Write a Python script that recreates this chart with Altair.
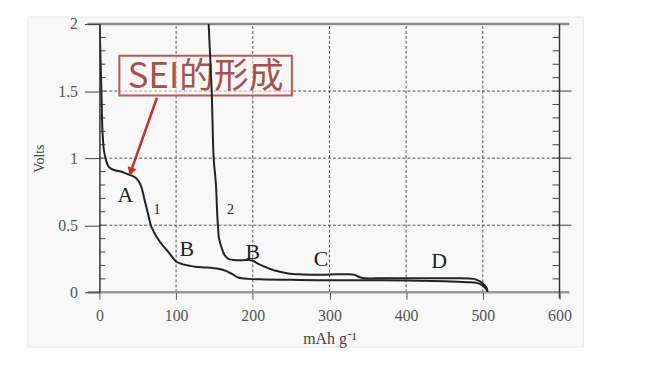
import altair as alt
import pandas as pd

# ---- data ----
c1_x = [0, 2.6, 4, 6, 8, 10, 13, 20, 28, 35, 42, 48, 52, 55, 58, 61, 64, 67, 71, 75, 81, 87, 94, 100, 108, 116, 125, 140, 155, 165, 175, 181, 195, 216, 250, 285, 330, 400, 450, 480, 492, 500, 505, 506]
c1_y = [2.05, 1.5, 1.2, 1.05, 1.0, 0.96, 0.93, 0.91, 0.90, 0.885, 0.87, 0.85, 0.82, 0.78, 0.71, 0.64, 0.57, 0.50, 0.45, 0.41, 0.36, 0.32, 0.27, 0.23, 0.21, 0.20, 0.19, 0.185, 0.175, 0.16, 0.13, 0.11, 0.10, 0.096, 0.093, 0.09, 0.09, 0.088, 0.082, 0.075, 0.07, 0.05, 0.02, 0.005]

c2_x = [142, 146.4, 149, 152, 153.5, 154.5, 156, 159.5, 163, 168, 175, 195, 200, 208, 216, 230, 246, 265, 285, 302, 324, 333, 337, 346, 360, 400, 450, 488, 495, 501, 505, 506]
c2_y = [2.05, 1.5, 1.0, 0.8, 0.6, 0.5, 0.4, 0.33, 0.28, 0.25, 0.24, 0.24, 0.235, 0.21, 0.19, 0.16, 0.14, 0.133, 0.13, 0.133, 0.135, 0.13, 0.118, 0.104, 0.104, 0.104, 0.104, 0.10, 0.085, 0.06, 0.03, 0.005]

label_text = ["A", "1", "B", "2", "B", "C", "D"]
label_x = [34, 75, 114, 171, 200, 289, 443]
label_y = [0.726, 0.615, 0.32, 0.615, 0.30, 0.245, 0.23]
label_size = [22, 14, 22, 14, 22, 22, 22]

x_ticks = [0, 100, 200, 300, 400, 500, 600]
y_ticks = [0, 0.5, 1, 1.5, 2]
x_grid = [100, 200, 300, 400, 500]
y_grid = [0.5, 1, 1.5]
y_minor = [round(0.1 * i, 1) for i in range(1, 20)]

note_text = "SEI的形成"
note_box = {"x0": 26, "x1": 251, "y0": 1.467, "y1": 1.763}
arrow_start = (75, 1.45)
arrow_end = (41, 0.90)

W, H = 463, 270

xscale = alt.Scale(domain=[0, 600], nice=False, zero=False)
yscale = alt.Scale(domain=[0, 2], nice=False, zero=False)
serif = "Liberation Serif"
xaxis = alt.Axis(values=x_ticks, title="mAh g⁻¹", grid=False, domain=False, zindex=2,
                 tickSize=7, tickColor="#555", tickWidth=1,
                 labelFont=serif, labelFontSize=16, labelColor="#555", labelPadding=8,
                 titleFont=serif, titleFontSize=16, titleColor="#444", titleFontWeight="normal",
                 titlePadding=8, labelFlush=False)
yaxis = alt.Axis(values=y_ticks, title="Volts", grid=False, domain=True, domainColor="#333", zindex=2,
                 domainWidth=1.5, tickSize=15, tickColor="#444", tickWidth=1,
                 labelFont=serif, labelFontSize=16, labelColor="#555", labelPadding=7,
                 labelExpr="format(datum.value, '~g')",
                 titleFont=serif, titleFontSize=14, titleColor="#444", titleFontWeight="normal",
                 titlePadding=11, labelFlush=False)


def X(f):
    return alt.X(f, type="quantitative", scale=xscale, axis=xaxis)


def Y(f):
    return alt.Y(f, type="quantitative", scale=yscale, axis=yaxis)


one = pd.DataFrame({"a": [0]})

background = alt.Chart(one).mark_rect(fill="#f8f8f8", stroke="#e8e8e8").encode(
    x=alt.value(-72), x2=alt.value(487), y=alt.value(-7), y2=alt.value(325))

vgrid = alt.Chart(pd.DataFrame({"gx": x_grid, "gy0": [0] * 5, "gy1": [2] * 5})).mark_rule(
    color="#555", strokeDash=[3, 2], strokeWidth=1).encode(x=X("gx"), y=Y("gy0"), y2="gy1")
hgrid = alt.Chart(pd.DataFrame({"gy": y_grid, "gx0": [0] * 3, "gx1": [600] * 3})).mark_rule(
    color="#555", strokeDash=[3, 2], strokeWidth=1).encode(y=Y("gy"), x=X("gx0"), x2="gx1")

minor = pd.DataFrame({"my": y_minor})
left_minor = alt.Chart(minor).mark_rule(color="#444", strokeWidth=1).encode(
    y=Y("my"), x=alt.value(0), x2=alt.value(6))
right_minor = alt.Chart(minor).mark_rule(color="#444", strokeWidth=1).encode(
    y=Y("my"), x=alt.value(W - 7), x2=alt.value(W))
right_major = alt.Chart(pd.DataFrame({"ry": y_grid})).mark_rule(color="#444", strokeWidth=1).encode(
    y=Y("ry"), x=alt.value(W), x2=alt.value(W + 12))

top_line = alt.Chart(one).mark_rule(color="#8a8a8a", strokeWidth=2.5).encode(
    x=alt.value(-12), x2=alt.value(W + 10), y=alt.value(0))
bottom_line = alt.Chart(one).mark_rule(color="#9a9a9a", strokeWidth=2.5).encode(
    x=alt.value(-12), x2=alt.value(W + 10), y=alt.value(H))
right_line = alt.Chart(one).mark_rule(color="#333", strokeWidth=1.5).encode(
    x=alt.value(W), y=alt.value(0), y2=alt.value(H + 6))

box = alt.Chart(pd.DataFrame([note_box])).mark_rect(
    fill="#fdf6f5", fillOpacity=0.55, stroke="#b85a55", strokeWidth=2).encode(
    x=X("x0"), x2="x1", y=Y("y0"), y2="y1")
note = alt.Chart(pd.DataFrame({"t": [note_text], "tx": [(note_box["x0"] + note_box["x1"]) / 2],
                               "ty": [(note_box["y0"] + note_box["y1"]) / 2]})).mark_text(
    font="Noto Sans CJK SC", fontSize=35, color="#a5524d", baseline="middle", align="center",
    dy=1).encode(x=X("tx"), y=Y("ty"), text="t")

arrow_df = pd.DataFrame({"ax0": [arrow_start[0]], "ay0": [arrow_start[1]],
                         "ax1": [arrow_end[0]], "ay1": [arrow_end[1]]})
arrow_line = alt.Chart(arrow_df).mark_rule(color="#c0302c", strokeWidth=2.5).encode(
    x=X("ax0"), y=Y("ay0"), x2="ax1", y2="ay1")
arrow_head = alt.Chart(arrow_df).mark_point(
    shape="triangle-down", size=90, filled=True, color="#c0302c", opacity=1, angle=19).encode(
    x=X("ax1"), y=Y("ay1"))

curves = pd.concat([
    pd.DataFrame({"cx": c1_x, "cy": c1_y, "curve": "1", "o": range(len(c1_x))}),
    pd.DataFrame({"cx": c2_x, "cy": c2_y, "curve": "2", "o": range(len(c2_x))}),
])
lines = alt.Chart(curves).mark_line(color="#222", strokeWidth=2, clip=True,
                                    interpolate="catmull-rom").encode(
    x=X("cx"), y=Y("cy"), detail="curve:N", order="o:Q")

labels = alt.Chart(pd.DataFrame({"t": label_text, "lx": label_x, "ly": label_y, "s": label_size})).mark_text(
    font=serif, color="#222", baseline="middle", align="center").encode(
    x=X("lx"), y=Y("ly"), text="t", size=alt.Size("s:Q", scale=None, legend=None))

chart = alt.layer(
    background, vgrid, hgrid, left_minor, right_minor, right_major, top_line, bottom_line,
    right_line, box, note, lines, labels, arrow_line, arrow_head
).properties(
    width=W, height=H,
    autosize=alt.AutoSizeParams(type="none"),
    padding={"left": 92, "top": 15, "right": 80, "bottom": 60},
    background="white",
).configure_view(stroke=None)

chart.save("out.html", embed_options={"renderer": "svg", "actions": False})
